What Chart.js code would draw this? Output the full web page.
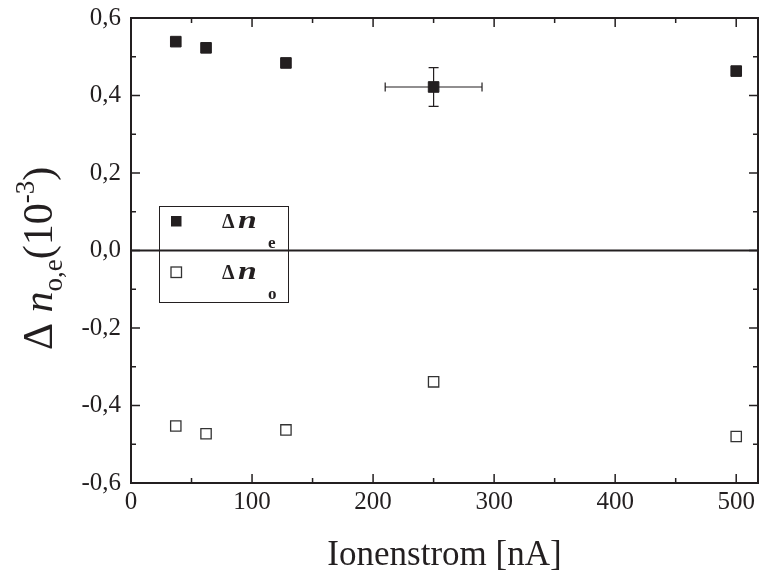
<!DOCTYPE html>
<html>
<head>
<meta charset="utf-8">
<script src="https://cdn.jsdelivr.net/npm/chart.js@4.4.0/dist/chart.umd.min.js"></script>
<style>
  html, body { margin: 0; padding: 0; background: #fff; }
  #wrap { width: 759px; height: 581px; }
</style>
</head>
<body>
<div id="wrap"><canvas id="chart" width="759" height="581"></canvas></div>
<script>
// ion current [nA] and refractive index change (10^-3)
const currentNA = [37, 62, 128, 250, 500];
const deltaNe = [0.539, 0.523, 0.484, 0.422, 0.463];
const deltaNo = [-0.453, -0.473, -0.463, -0.339, -0.480];
const errCurrent = [0, 0, 0, 40, 0];
const errNe = [0, 0, 0, 0.05, 0];
const xTicksMajor = [0, 100, 200, 300, 400, 500];
const yTicksMajor = [-0.6, -0.4, -0.2, 0, 0.2, 0.4, 0.6];

const ink = '#231f20';
const serif = '"Liberation Serif", "Times New Roman", serif';

const isMajor = (list, v) => list.some(m => Math.abs(m - v) < 1e-6);
const fmtComma = (v) => v.toFixed(1).replace('.', ',');

const framePlugin = {
    id: 'frame',
    beforeDatasetsDraw(chart) {
        const { ctx, chartArea: a, scales: { x, y } } = chart;
        ctx.save();
        ctx.strokeStyle = ink;

        // zero line
        const y0 = y.getPixelForValue(0);
        ctx.lineWidth = 2;
        ctx.beginPath();
        ctx.moveTo(a.left, y0);
        ctx.lineTo(a.right, y0);
        ctx.stroke();

        // error bars
        ctx.lineWidth = 1.2;
        currentNA.forEach((c, i) => {
            if (!errCurrent[i] && !errNe[i]) return;
            const px = x.getPixelForValue(c);
            const py = y.getPixelForValue(deltaNe[i]);
            const xl = x.getPixelForValue(c - errCurrent[i]);
            const xr = x.getPixelForValue(c + errCurrent[i]);
            const yt = y.getPixelForValue(deltaNe[i] + errNe[i]);
            const yb = y.getPixelForValue(deltaNe[i] - errNe[i]);
            ctx.beginPath();
            ctx.moveTo(xl, py); ctx.lineTo(xr, py);
            ctx.moveTo(xl, py - 4.5); ctx.lineTo(xl, py + 4.5);
            ctx.moveTo(xr, py - 4.5); ctx.lineTo(xr, py + 4.5);
            ctx.moveTo(px, yt); ctx.lineTo(px, yb);
            ctx.moveTo(px - 5, yt); ctx.lineTo(px + 5, yt);
            ctx.moveTo(px - 5, yb); ctx.lineTo(px + 5, yb);
            ctx.stroke();
        });
        ctx.restore();
    },
    afterDraw(chart) {
        const { ctx, chartArea: a, scales: { x, y } } = chart;
        ctx.save();
        ctx.strokeStyle = ink;

        // box
        ctx.lineWidth = 2;
        ctx.strokeRect(a.left, a.top, a.right - a.left, a.bottom - a.top);

        // inward ticks on all four sides
        ctx.lineWidth = 1.5;
        ctx.beginPath();
        x.ticks.forEach(t => {
            const v = t.value;
            if (Math.abs(v / 50 - Math.round(v / 50)) > 1e-6) return;
            const len = isMajor(xTicksMajor, v) ? 9 : 5;
            const px = x.getPixelForValue(v);
            ctx.moveTo(px, a.bottom); ctx.lineTo(px, a.bottom - len);
            ctx.moveTo(px, a.top); ctx.lineTo(px, a.top + len);
        });
        y.ticks.forEach(t => {
            const v = Math.round(t.value * 10) / 10;
            const len = isMajor(yTicksMajor, v) ? 9 : 5;
            const py = y.getPixelForValue(v);
            ctx.moveTo(a.left, py); ctx.lineTo(a.left + len, py);
            ctx.moveTo(a.right, py); ctx.lineTo(a.right - len, py);
        });
        ctx.stroke();

        // legend
        const lx = a.left + 28, ly = a.top + 188;
        ctx.lineWidth = 1;
        ctx.strokeRect(lx + 0.5, ly + 0.5, 129, 96);
        const rows = [
            { sub: 'e', fill: ink, cy: ly + 15 },
            { sub: 'o', fill: '#fff', cy: ly + 66 }
        ];
        rows.forEach(r => {
            ctx.fillStyle = r.fill;
            ctx.fillRect(lx + 12, r.cy - 5, 10.5, 10.5);
            if (r.fill === '#fff') {
                ctx.strokeStyle = '#333';
                ctx.lineWidth = 1.3;
                ctx.strokeRect(lx + 12, r.cy - 5, 10.5, 10.5);
            }
            ctx.fillStyle = ink;
            ctx.textBaseline = 'alphabetic';
            ctx.textAlign = 'left';
            const base = r.cy + 7;
            ctx.font = 'bold 20px ' + serif;
            ctx.fillText('\u0394', lx + 63, base);
            // the n is drawn a bit wide, as in the original
            ctx.save();
            ctx.translate(lx + 79, base);
            ctx.scale(1.3, 1);
            ctx.font = 'bold italic 26px ' + serif;
            ctx.fillText('n', 0, 0);
            ctx.restore();
            ctx.font = 'bold 17px ' + serif;
            ctx.fillText(r.sub, lx + 109, base + 20);
        });

        // y axis title with sub/superscripts
        ctx.fillStyle = ink;
        ctx.translate(52, 350);
        ctx.rotate(-Math.PI / 2);
        const parts = [
            { t: '\u0394 ', f: '42px ' + serif, dy: 0 },
            { t: 'n', f: 'italic 42px ' + serif, dy: 0 },
            { t: 'o,e', f: '27px ' + serif, dy: 10 },
            { t: '(10', f: '42px ' + serif, dy: 0 },
            { t: '-3', f: '27px ' + serif, dy: -18 },
            { t: ')', f: '42px ' + serif, dy: 0 }
        ];
        let cx = 0;
        ctx.textAlign = 'left';
        parts.forEach(p => {
            ctx.font = p.f;
            ctx.fillText(p.t, cx, p.dy);
            cx += ctx.measureText(p.t).width;
        });
        ctx.restore();
    }
};

new Chart(document.getElementById('chart').getContext('2d'), {
    type: 'scatter',
    data: {
        datasets: [{
            label: '\u0394 n_e',
            data: currentNA.map((c, i) => ({ x: c, y: deltaNe[i] })),
            pointStyle: 'rect',
            pointRadius: 7.5,
            backgroundColor: ink,
            borderColor: ink,
            borderWidth: 1
        }, {
            label: '\u0394 n_o',
            data: currentNA.map((c, i) => ({ x: c, y: deltaNo[i] })),
            pointStyle: 'rect',
            pointRadius: 7.3,
            backgroundColor: '#fff',
            borderColor: '#333',
            borderWidth: 1.3
        }]
    },
    options: {
        responsive: false,
        animation: false,
        events: [],
        layout: {
            autoPadding: false,
            padding: { top: 18, right: 1, left: 0, bottom: 0 }
        },
        plugins: {
            legend: { display: false },
            tooltip: { enabled: false }
        },
        scales: {
            x: {
                type: 'linear',
                min: 0,
                max: 518,
                afterFit: (s) => {
                    s.height = 98;
                    s.paddingLeft = 0;
                    s.paddingRight = 0;
                },
                grid: { display: false, drawTicks: false },
                border: { display: false },
                ticks: {
                    stepSize: 50,
                    includeBounds: false,
                    autoSkip: false,
                    maxRotation: 0,
                    padding: 4,
                    color: ink,
                    font: { family: serif, size: 25 },
                    callback: (v) => isMajor(xTicksMajor, v) ? String(v) : ''
                },
                title: {
                    display: true,
                    text: 'Ionenstrom [nA]',
                    color: ink,
                    font: { family: serif, size: 35 },
                    padding: { top: 0, bottom: 4 }
                }
            },
            y: {
                type: 'linear',
                min: -0.6,
                max: 0.6,
                afterFit: (s) => {
                    s.width = 131;
                    s.paddingTop = 0;
                    s.paddingBottom = 0;
                },
                grid: { display: false, drawTicks: false },
                border: { display: false },
                ticks: {
                    stepSize: 0.1,
                    autoSkip: false,
                    padding: 10,
                    color: ink,
                    font: { family: serif, size: 25 },
                    callback: (v) => {
                        const r = Math.round(v * 10) / 10;
                        return isMajor(yTicksMajor, r) ? fmtComma(r) : '';
                    }
                }
            }
        }
    },
    plugins: [framePlugin]
});
</script>
</body>
</html>
